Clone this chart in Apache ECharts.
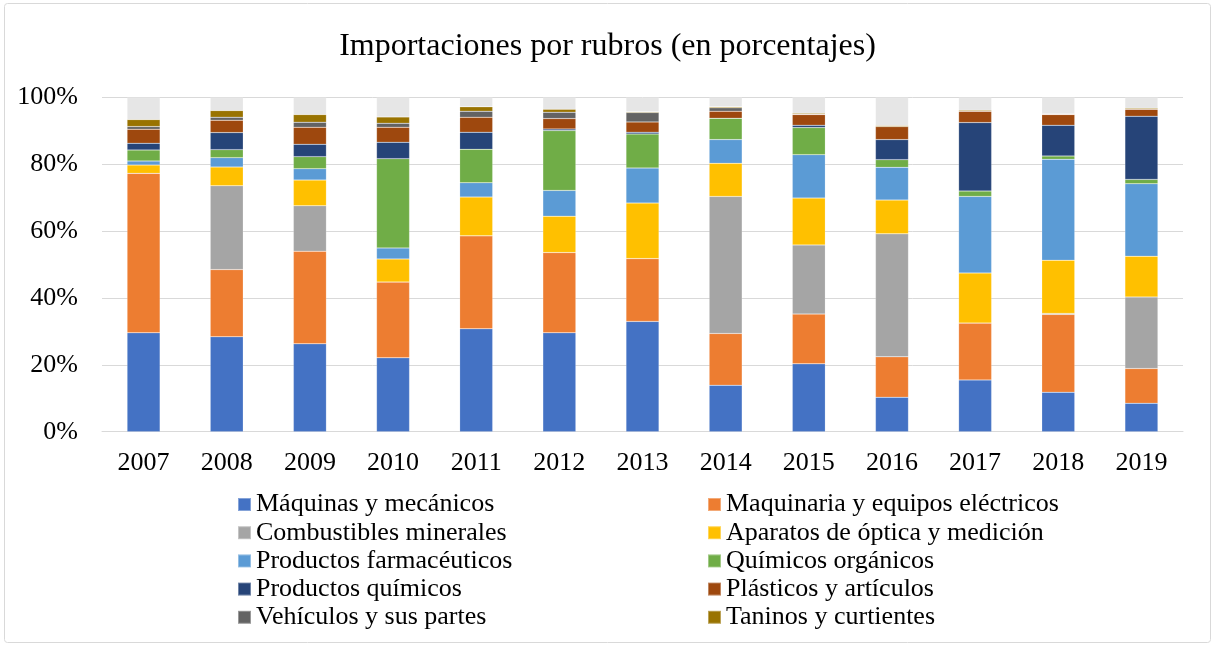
<!DOCTYPE html>
<html>
<head>
<meta charset="utf-8">
<script src="https://cdn.jsdelivr.net/npm/echarts@6/dist/echarts.min.js"></script>
<style>
html,body{margin:0;padding:0;background:#fff;}
#chart{width:1215px;height:646px;}
</style>
</head>
<body>
<div id="chart"></div>
<script>
const years = ['2007','2008','2009','2010','2011','2012','2013','2014','2015','2016','2017','2018','2019'];
const maquinas      = [29.6, 28.4, 26.3, 22.1, 30.8, 29.6, 33.0, 13.9, 20.3, 10.3, 15.5, 11.8, 8.5];
const electricos    = [47.7, 20.1, 27.7, 22.7, 27.8, 24.0, 18.8, 15.5, 14.9, 12.1, 17.0, 23.3, 10.4];
const combustibles  = [0, 25.1, 13.6, 0, 0, 0, 0, 41.0, 20.7, 36.8, 0, 0.3, 21.4];
const optica        = [2.5, 5.6, 7.7, 6.9, 11.6, 10.9, 16.6, 9.9, 14.0, 10.1, 15.0, 15.9, 12.2];
const farmaceuticos = [1.2, 2.8, 3.4, 3.3, 4.3, 7.7, 10.5, 7.1, 13.0, 9.8, 22.9, 30.2, 21.7];
const organicos     = [3.3, 2.4, 3.6, 26.7, 10.0, 17.9, 10.2, 6.4, 8.1, 2.3, 1.6, 1.0, 1.3];
const quimicos      = [2.0, 5.1, 3.7, 4.9, 5.1, 0.5, 0.5, 0, 0.7, 6.0, 20.5, 9.2, 18.9];
const plasticos     = [4.2, 3.7, 5.1, 4.5, 4.5, 3.1, 3.1, 2.1, 3.2, 3.9, 3.4, 3.2, 2.1];
const vehiculos     = [0.8, 0.9, 1.5, 1.2, 1.8, 1.9, 2.8, 1.0, 0.1, 0, 0, 0, 0];
const taninos       = [2.1, 2.0, 2.3, 1.9, 1.3, 0.9, 0.2, 0.3, 0.3, 0.3, 0.3, 0.2, 0.3];
const otros         = [6.6, 3.9, 5.1, 5.8, 2.8, 3.5, 4.3, 2.8, 4.8, 8.4, 3.8, 4.9, 3.2];
const yTicks = ['0%','20%','40%','60%','80%','100%'];

const seriesDefs = [
  ['Máquinas y mecánicos', maquinas, '#4472C4'],
  ['Maquinaria y equipos eléctricos', electricos, '#ED7D31'],
  ['Combustibles minerales', combustibles, '#A5A5A5'],
  ['Aparatos de óptica y medición', optica, '#FFC000'],
  ['Productos farmacéuticos', farmaceuticos, '#5B9BD5'],
  ['Químicos orgánicos', organicos, '#70AD47'],
  ['Productos químicos', quimicos, '#264478'],
  ['Plásticos y artículos', plasticos, '#9E480E'],
  ['Vehículos y sus partes', vehiculos, '#636363'],
  ['Taninos y curtientes', taninos, '#997300'],
  ['Otros', otros, '#E6E6E6']
];

const font = '"Liberation Serif", "Times New Roman", serif';
const chart = echarts.init(document.getElementById('chart'));
const series = seriesDefs.map(([name, data, color]) => ({
  name, type: 'bar', stack: 'total', data, barWidth: 33,
  itemStyle: { color, borderColor: 'rgba(255,255,255,0.35)', borderWidth: 0.5 },
  emphasis: { disabled: true }
}));

const leftNames = seriesDefs.filter((d,i)=>i<10 && i%2===0).map(d=>d[0]);
const rightNames = seriesDefs.filter((d,i)=>i<10 && i%2===1).map(d=>d[0]);
const legendCommon = {
  orient: 'vertical', top: 490.5, padding: 0, itemWidth: 13, itemHeight: 13, itemGap: 0.2,
  icon: 'rect', textStyle: { fontFamily: font, fontSize: 26, color: '#000', lineHeight: 28 },
  selectedMode: false
};

chart.setOption({
  animation: false,
  title: {
    text: 'Importaciones por rubros (en porcentajes)',
    left: 'center', top: 26,
    textStyle: { fontFamily: font, fontSize: 32, fontWeight: 'normal', color: '#000' }
  },
  graphic: [{
    type: 'rect', shape: { x: 4.5, y: 3.5, width: 1206, height: 639, r: 3 },
    style: { fill: 'none', stroke: '#d9d9d9', lineWidth: 1 }, silent: true
  }],
  legend: [
    Object.assign({ left: 237, data: leftNames }, legendCommon),
    Object.assign({ left: 707, data: rightNames }, legendCommon)
  ],
  grid: { left: 102, right: 32, top: 97.5, bottom: 214.3, containLabel: false },
  xAxis: {
    type: 'category', data: years,
    axisLine: { lineStyle: { color: '#d9d9d9', width: 1 } },
    axisTick: { show: false },
    axisLabel: { fontFamily: font, fontSize: 26, color: '#000', margin: 18 }
  },
  yAxis: {
    type: 'value', min: 0, max: 100, interval: 20,
    axisLine: { show: false }, axisTick: { show: false },
    splitLine: { lineStyle: { color: '#d9d9d9', width: 1 } },
    axisLabel: { fontFamily: font, fontSize: 26, color: '#000', margin: 24,
      formatter: v => yTicks[Math.round(v/20)] }
  },
  series
});
</script>
</body>
</html>
